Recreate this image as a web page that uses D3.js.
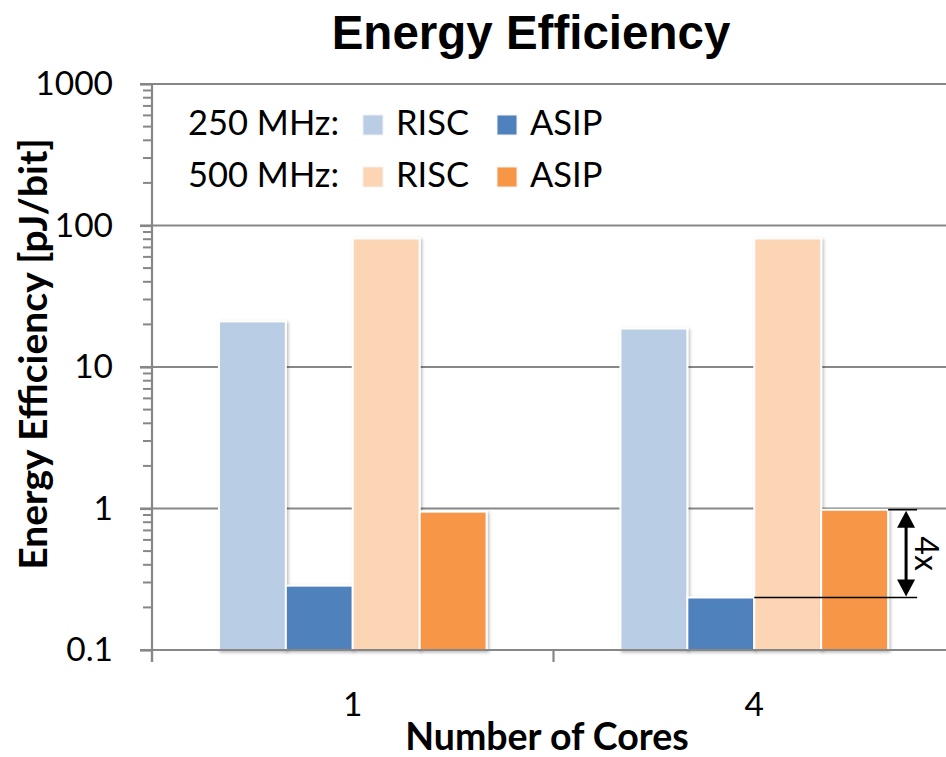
<!DOCTYPE html>
<html><head><meta charset="utf-8">
<script src="https://cdn.jsdelivr.net/npm/d3@7"></script>
<style>body{margin:0;background:#fff}svg{display:block}</style>
</head><body><svg id="c" width="946" height="757"></svg>
<script>
// ---- data ----
const categories = ["1", "4"];
const seriesNames = ["RISC250", "ASIP250", "RISC500", "ASIP500"];
const risc250 = [21, 18.7];
const asip250 = [0.285, 0.235];
const risc500 = [81, 81];
const asip500 = [0.95, 0.98];
const seriesColors = ["#B9CDE5", "#4F81BD", "#FCD5B5", "#F79646"];
const yTickValues = [0.1, 1, 10, 100, 1000];
const yTickLabels = ["0.1", "1", "10", "100", "1000"];
const legendRowLabels = ["250 MHz:", "500 MHz:"];
const legendItemLabels = ["RISC", "ASIP", "RISC", "ASIP"];
const annotationLabel = "4x";

const seriesValues = [risc250, asip250, risc500, asip500];

// ---- layout ----
const W = 946, H = 757;
const plotLeft = 152, plotTop = 84, plotBottom = 650;
const bandW = 401.5;
const svg = d3.select("#c");
const defs = svg.append("defs");
const f = defs.append("filter").attr("id", "sh").attr("x", "-10%").attr("y", "-10%").attr("width", "130%").attr("height", "130%");
f.append("feDropShadow").attr("dx", 1.5).attr("dy", 1.5).attr("stdDeviation", 1.8).attr("flood-color", "#000").attr("flood-opacity", 0.28);

const x = d3.scaleBand().domain(categories).range([plotLeft, plotLeft + bandW * categories.length]).padding(0);
const x1 = d3.scaleBand().domain(seriesNames).range([x.bandwidth() / 6, x.bandwidth() * 5 / 6]).padding(0);
const y = d3.scaleLog().domain([0.1, 1000]).range([plotBottom, plotTop]);

const gridColor = "#878787";

// gridlines
svg.append("g").selectAll("line").data(yTickValues).join("line")
  .attr("x1", 140).attr("x2", W).attr("y1", d => y(d)).attr("y2", d => y(d))
  .attr("stroke", gridColor).attr("stroke-width", 2.2);

// minor ticks
const minors = [];
[0.1, 1, 10, 100].forEach(d => { for (let k = 2; k <= 9; k++) minors.push(d * k); });
svg.append("g").selectAll("line").data(minors).join("line")
  .attr("x1", 143).attr("x2", plotLeft).attr("y1", d => y(d)).attr("y2", d => y(d))
  .attr("stroke", gridColor).attr("stroke-width", 2);

// y axis
const yAxis = d3.axisLeft(y).tickValues(yTickValues)
  .tickFormat((d, i) => yTickLabels[i]).tickSize(12).tickSizeOuter(0).tickPadding(27);
const gy = svg.append("g").attr("transform", `translate(${plotLeft},0)`).call(yAxis);
gy.select(".domain").remove();
gy.selectAll(".tick line").attr("stroke", gridColor).attr("stroke-width", 2.2);
gy.selectAll(".tick text").attr("font-family", "Lato, sans-serif").attr("font-size", 33.5).attr("fill", "#000");
svg.append("line").attr("x1", plotLeft).attr("x2", plotLeft).attr("y1", plotTop).attr("y2", plotBottom + 12)
  .attr("stroke", gridColor).attr("stroke-width", 2.2);

// x axis
const xAxis = d3.axisBottom(x).tickSize(0).tickPadding(42);
const gx = svg.append("g").attr("transform", `translate(0,${plotBottom})`).call(xAxis);
gx.select(".domain").remove();
gx.selectAll(".tick text").attr("font-family", "Lato, sans-serif").attr("font-size", 33.5).attr("fill", "#000");
svg.append("g").selectAll("line").data(categories).join("line")
  .attr("x1", d => x(d)).attr("x2", d => x(d)).attr("y1", plotBottom).attr("y2", plotBottom + 12)
  .attr("stroke", gridColor).attr("stroke-width", 2.2);

// bars
const barsG = svg.append("g");
categories.forEach((c, ci) => {
  seriesNames.forEach((s, si) => {
    const v = seriesValues[si][ci];
    barsG.append("rect")
      .attr("x", x(c) + x1(s)).attr("width", x1.bandwidth())
      .attr("y", y(v)).attr("height", plotBottom - y(v))
      .attr("fill", seriesColors[si]).attr("stroke", "#fff").attr("stroke-width", 2)
      .attr("filter", "url(#sh)");
  });
});

// redraw x baseline over bars
svg.append("line").attr("x1", 140).attr("x2", W).attr("y1", plotBottom).attr("y2", plotBottom)
  .attr("stroke", gridColor).attr("stroke-width", 2.2);

// legend
const lg = svg.append("g").attr("font-family", "Lato, sans-serif").attr("font-size", 34.5).attr("fill", "#000");
legendRowLabels.forEach((lab, r) => {
  const by = 135 + r * 52;
  lg.append("text").attr("x", 188).attr("y", by).text(lab);
  [0, 1].forEach(j => {
    const si = r * 2 + j;
    const sx = j === 0 ? 363 : 497;
    lg.append("rect").attr("x", sx).attr("y", by - 20).attr("width", 20).attr("height", 20)
      .attr("fill", seriesColors[si]).attr("stroke", "#f2f2f2").attr("stroke-width", 1);
    lg.append("text").attr("x", sx + 33).attr("y", by).text(legendItemLabels[si]);
  });
});

// annotation (ratio between 500MHz ASIP and 250MHz ASIP at 4 cores)
const cat = categories[1];
const yTop = y(asip500[1]);
const yBot = y(asip250[1]);
const barEnd = x(cat) + x1("ASIP500") + x1.bandwidth();
const ax = barEnd + 18;
const ann = svg.append("g");
ann.append("line").attr("x1", barEnd).attr("x2", barEnd + 29).attr("y1", yTop).attr("y2", yTop)
  .attr("stroke", "#000").attr("stroke-width", 1.5);
ann.append("line").attr("x1", x(cat) + x1("RISC500")).attr("x2", barEnd + 29).attr("y1", yBot).attr("y2", yBot)
  .attr("stroke", "#000").attr("stroke-width", 1.5);
ann.append("line").attr("x1", ax).attr("x2", ax).attr("y1", yTop + 15).attr("y2", yBot - 15)
  .attr("stroke", "#000").attr("stroke-width", 3);
ann.append("path").attr("d", `M${ax},${yTop + 1}L${ax - 9},${yTop + 18}L${ax + 9},${yTop + 18}Z`).attr("fill", "#000");
ann.append("path").attr("d", `M${ax},${yBot - 1}L${ax - 9},${yBot - 18}L${ax + 9},${yBot - 18}Z`).attr("fill", "#000");
ann.append("text").attr("transform", `translate(${ax + 9},${(yTop + yBot) / 2}) rotate(90)`)
  .attr("text-anchor", "middle").attr("font-family", "Lato, sans-serif").attr("font-size", 32)
  .text(annotationLabel);

// titles
svg.append("text").attr("x", 531).attr("y", 49).attr("text-anchor", "middle")
  .attr("font-family", "'Liberation Sans', Arial, sans-serif").attr("font-weight", "bold").attr("font-size", 47.5)
  .text("Energy Efficiency");
svg.append("text").attr("x", 547).attr("y", 750).attr("text-anchor", "middle")
  .attr("font-family", "Lato, sans-serif").attr("font-weight", "bold").attr("font-size", 37.5)
  .text("Number of Cores");
svg.append("text").attr("transform", `translate(47,354) rotate(-90)`).attr("text-anchor", "middle")
  .attr("font-family", "Lato, sans-serif").attr("font-weight", "bold").attr("font-size", 39)
  .text("Energy Efficiency [pJ/bit]");
</script>
</body></html>
